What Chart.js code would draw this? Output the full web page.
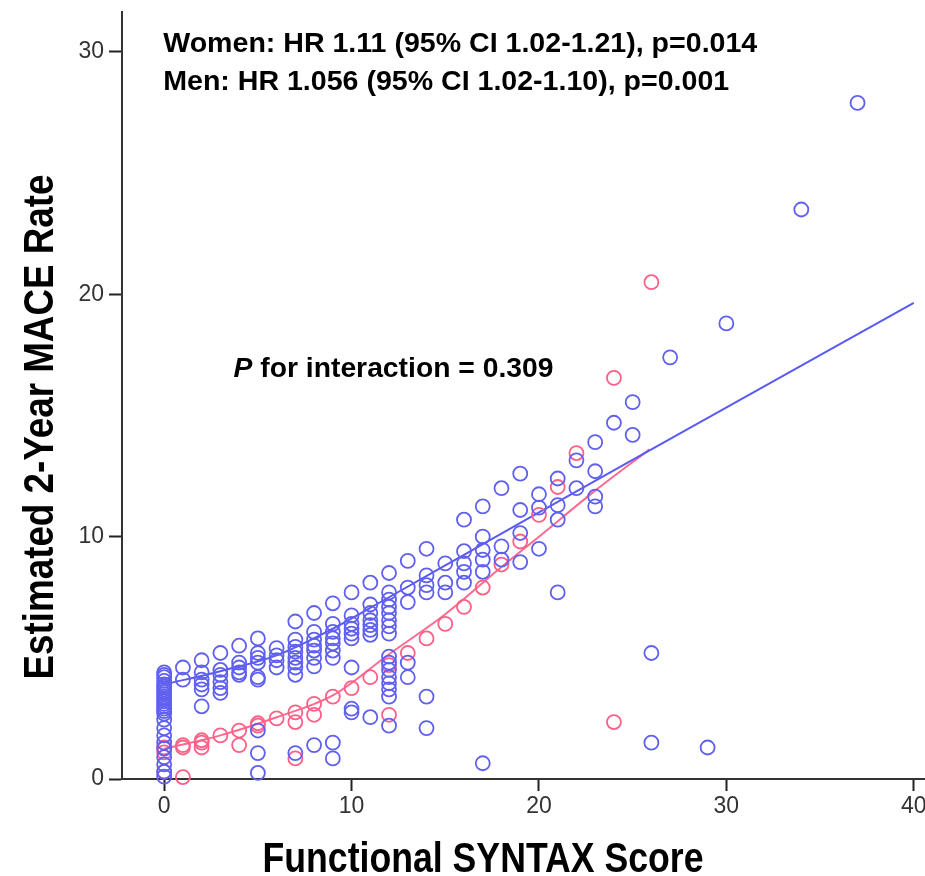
<!DOCTYPE html>
<html><head><meta charset="utf-8">
<script src="https://cdn.jsdelivr.net/npm/chart.js@4.4.0/dist/chart.umd.min.js"></script>
<style>html,body{margin:0;padding:0;background:#fff;}#wrap{width:925px;height:876px;position:relative;}</style>
</head><body><div id="wrap"><canvas id="c" width="925" height="876"></canvas></div>
<script>
const xTicks = [0, 10, 20, 30, 40];
const yTicks = [0, 10, 20, 30];

// Men: [Functional SYNTAX score, estimated 2-year MACE rate]
const menPoints = [
  [0,4.4],[0,4.3],[0,4.2],[0,4.05],[0,3.9],[0,3.8],[0,3.7],[0,3.6],[0,3.5],[0,3.4],[0,3.3],[0,3.2],[0,3.1],
  [0,3.0],[0,2.9],[0,2.8],[0,2.7],[0,2.45],[0,2.1],[0,1.8],[0,1.5],[0,1.25],[0,0.9],[0,0.6],[0,0.3],[0,0.1],
  [1,4.6],[1,4.1],
  [2,4.9],[2,4.4],[2,4.1],[2,3.9],[2,3.7],[2,3.0],
  [3,5.2],[3,4.5],[3,4.3],[3,4.0],[3,3.75],[3,3.55],
  [4,5.5],[4,4.8],[4,4.6],[4,4.4],[4,4.3],
  [5,5.8],[5,5.2],[5,5.0],[5,4.8],[5,4.2],[5,4.1],[5,2.0],[5,1.07],[5,0.25],
  [6,5.4],[6,5.1],[6,4.9],[6,4.6],
  [7,6.5],[7,5.75],[7,5.45],[7,5.25],[7,5.0],[7,4.8],[7,4.6],[7,4.3],[7,1.07],
  [8,6.85],[8,6.07],[8,5.75],[8,5.5],[8,5.3],[8,5.0],[8,4.65],[8,1.4],
  [9,7.25],[9,6.4],[9,6.07],[9,5.8],[9,5.6],[9,5.3],[9,5.0],[9,1.5],[9,0.85],
  [10,7.7],[10,6.75],[10,6.4],[10,6.2],[10,6.0],[10,5.8],[10,4.6],[10,2.9],[10,2.75],
  [11,8.1],[11,7.2],[11,6.85],[11,6.55],[11,6.35],[11,6.15],[11,5.95],[11,2.55],
  [12,8.5],[12,7.7],[12,7.4],[12,7.1],[12,6.85],[12,6.55],[12,6.3],[12,6.0],[12,5.05],[12,4.8],[12,4.5],
  [12,4.2],[12,3.95],[12,3.7],[12,3.4],[12,2.2],
  [13,9.0],[13,7.9],[13,7.3],[13,4.8],[13,4.2],
  [14,9.5],[14,8.4],[14,8.0],[14,7.7],[14,3.4],[14,2.1],
  [15,8.9],[15,8.1],[15,7.7],
  [16,10.7],[16,9.4],[16,8.9],[16,8.55],[16,8.1],
  [17,11.25],[17,10.0],[17,9.45],[17,9.05],[17,8.55],[17,0.65],
  [18,12.0],[18,9.6],[18,9.05],
  [19,12.6],[19,11.1],[19,10.15],[19,8.95],
  [20,11.75],[20,11.2],[20,9.5],
  [21,12.4],[21,11.3],[21,10.7],[21,7.7],
  [22,13.15],[22,12.0],
  [23,13.9],[23,12.7],[23,11.65],[23,11.25],
  [24,14.7],
  [25,15.55],[25,14.2],
  [26,5.2],[26,1.5],
  [27,17.4],[29,1.3],[30,18.8],[34,23.5],[37,27.9]
];

// Women: [Functional SYNTAX score, estimated 2-year MACE rate]
const womenPoints = [
  [0,1.3],[0,1.1],[0,0.3],[1,1.4],[1,1.3],[1,0.08],[2,1.6],[2,1.5],[2,1.3],[3,1.8],[4,2.0],[4,1.4],
  [5,2.3],[5,2.2],[6,2.5],[7,2.75],[7,2.35],[7,0.85],[8,3.1],[8,2.65],[9,3.4],[10,3.75],[11,4.2],
  [12,4.7],[12,2.65],[13,5.2],[14,5.8],[15,6.4],[16,7.1],[17,7.9],[18,8.85],[19,9.8],[20,10.9],
  [21,12.05],[22,13.45],[24,16.55],[24,2.35],[26,20.5]
];

// Fit lines
const menFit = [[0,3.9],[3,4.45],[6,5.1],[9,6.2],[12,7.5],[16,9.25],[20,11.0],[26,13.6],[40,19.65]];
const womenFit = [[0,1.25],[3,1.8],[6,2.55],[9,3.45],[12,5.15],[15,6.8],[18,8.75],[20,10.0],[23,11.9],[25.9,13.6]];

const annotationLines = ["Women: HR 1.11 (95% CI 1.02-1.21), p=0.014", "Men: HR 1.056 (95% CI 1.02-1.10), p=0.001"];
const interactionParts = ["P", " for interaction = 0.309"];
const xTitle = "Functional SYNTAX Score";
const yTitle = "Estimated 2-Year MACE Rate";

const BLUE = '#6060f0', PINK = '#ff6088';
const FAM = "'Liberation Sans',Arial,sans-serif";
const mctx = document.createElement('canvas').getContext('2d');
function widthAt(text, font){ mctx.font = font; return mctx.measureText(text).width; }

// text sizing: cap heights from the reference, condensed horizontally to the reference widths
const annSize = 28;
const annScale = 594 / widthAt(annotationLines[0], `bold ${annSize}px ${FAM}`);
const intSize = 27;
const intScale = 320 / (widthAt(interactionParts[0], `italic bold ${intSize}px ${FAM}`) + widthAt(interactionParts[1], `bold ${intSize}px ${FAM}`));
const titleSize = 42;
const xTitleScale = 441 / widthAt(xTitle, `bold ${titleSize}px ${FAM}`);
const yTitleScale = 505 / widthAt(yTitle, `bold ${titleSize}px ${FAM}`);

// annotation anchors in data units
const annAnchors = [[-0.05, 30.0], [-0.05, 28.43], [3.7, 16.6]];

const annotPlugin = {
  id: 'annot',
  afterDraw(chart){
    const {ctx, scales:{x, y}} = chart;
    ctx.save();
    ctx.fillStyle = '#000';
    ctx.textBaseline = 'alphabetic';
    ctx.textAlign = 'left';
    ctx.font = `bold ${annSize}px ${FAM}`;
    annotationLines.forEach((t, i) => {
      ctx.save();
      ctx.translate(x.getPixelForValue(annAnchors[i][0]), y.getPixelForValue(annAnchors[i][1]));
      ctx.scale(annScale, 1);
      ctx.fillText(t, 0, 0);
      ctx.restore();
    });
    ctx.save();
    ctx.translate(x.getPixelForValue(annAnchors[2][0]), y.getPixelForValue(annAnchors[2][1]));
    ctx.scale(intScale, 1);
    ctx.font = `italic bold ${intSize}px ${FAM}`;
    ctx.fillText(interactionParts[0], 0, 0);
    const w0 = ctx.measureText(interactionParts[0]).width;
    ctx.font = `bold ${intSize}px ${FAM}`;
    ctx.fillText(interactionParts[1], w0, 0);
    ctx.restore();

    // axis titles
    ctx.font = `bold ${titleSize}px ${FAM}`;
    ctx.textAlign = 'center';
    ctx.save();
    ctx.translate(483, chart.height - 4);
    ctx.scale(xTitleScale, 1);
    ctx.fillText(xTitle, 0, 0);
    ctx.restore();
    ctx.save();
    ctx.translate(53, 427);
    ctx.rotate(-Math.PI / 2);
    ctx.scale(yTitleScale, 1);
    ctx.fillText(yTitle, 0, 0);
    ctx.restore();
    ctx.restore();
  }
};

const toXY = arr => arr.map(([x, y]) => ({x, y}));

new Chart(document.getElementById('c').getContext('2d'), {
  type: 'scatter',
  data: {
    datasets: [
      {label:'Men', data: toXY(menPoints), pointRadius:7, pointHoverRadius:7, borderColor:BLUE,
       backgroundColor:'rgba(0,0,0,0)', borderWidth:1.8, clip:false, showLine:false},
      {label:'Women', data: toXY(womenPoints), pointRadius:7, pointHoverRadius:7, borderColor:PINK,
       backgroundColor:'rgba(0,0,0,0)', borderWidth:1.8, clip:false, showLine:false},
      {type:'line', label:'Men fit', data: toXY(menFit), showLine:true, borderColor:'#5a5af4', borderWidth:2,
       pointRadius:0, fill:false, cubicInterpolationMode:'monotone'},
      {type:'line', label:'Women fit', data: toXY(womenFit), showLine:true, borderColor:'#ff6a90', borderWidth:2,
       pointRadius:0, fill:false, cubicInterpolationMode:'monotone'}
    ]
  },
  options: {
    responsive:false, animation:false, devicePixelRatio:1,
    layout:{autoPadding:false, padding:{top:12, right:0, bottom:0, left:0}},
    plugins:{legend:{display:false}, tooltip:{enabled:false}},
    events:[],
    scales:{
      x:{
        type:'linear', min:-2.25, max:40.6,
        afterBuildTicks: s => { s.ticks = xTicks.map(v => ({value:v})); },
        afterFit: s => { s.height = 97; s.paddingLeft = 0; s.paddingRight = 0; },
        ticks:{font:{family:FAM, size:23}, color:'#333', padding:2, maxRotation:0, autoSkip:false, includeBounds:false},
        grid:{drawOnChartArea:false, drawTicks:true, tickLength:12, color:'#222', tickWidth:2},
        border:{display:true, color:'#333', width:2},
        title:{display:false}
      },
      y:{
        type:'linear', min:0, max:31.65,
        afterBuildTicks: s => { s.ticks = yTicks.map(v => ({value:v})); },
        afterFit: s => { s.width = 122; s.paddingTop = 0; s.paddingBottom = 0; },
        ticks:{font:{family:FAM, size:23}, color:'#333', padding:5, includeBounds:false},
        grid:{drawOnChartArea:false, drawTicks:true, tickLength:13, color:'#222', tickWidth:2},
        border:{display:true, color:'#333', width:2},
        title:{display:false}
      }
    }
  },
  plugins:[annotPlugin]
});
</script></body></html>
